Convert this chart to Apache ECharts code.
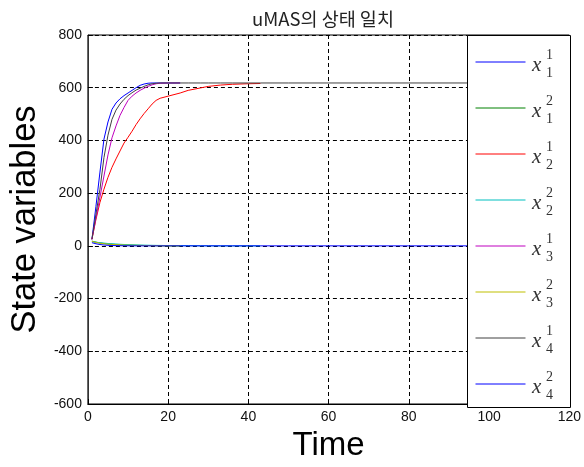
<!DOCTYPE html>
<html>
<head>
<meta charset="utf-8">
<script src="https://cdn.jsdelivr.net/npm/echarts@6/dist/echarts.min.js"></script>
<style>
html,body{margin:0;padding:0;background:#fff;}
#chart{width:584px;height:467px;}
</style>
</head>
<body>
<div id="chart"></div>
<script>
// Shared time axis samples
var time = [1,2,3,4,5,6,7,8,9,10,11,12,13,14,15,16,17,18,20,23,25,28,30,33,36,40,43,50,60,70,80,90,100];

// Series values, each aligned to the start of "time"
var x11 = [25,150,280,405,470,518,542,558,570,580,590,600,609,614,617,618,618,618,618,618];
var x12 = [18,14,11,9,7,6,5,4,3.5,3,2.5,2,1.7,1.4,1.2,1,0.8,0.6,0.3,0];
var x21 = [25,100,165,215,260,298,330,360,390,412,435,460,482,502,520,538,552,560,568,580,590,599,605,610,613,615,616];
var x22 = [16,14,12,10.5,9,8,7,6,5.2,4.5,4,3.5,3,2.7,2.4,2.1,1.8,1.6,1.2,0.8,0.6,0.3,0.2,0.1,0,0,0];
var x31 = [25,105,185,265,345,410,455,495,525,552,568,580,590,598,605,611,615,617,618,618];
var x32 = [17,13,10,8,6.5,5.5,4.5,3.8,3.2,2.7,2.3,2,1.7,1.4,1.2,1,0.8,0.6,0.3,0];
var x41 = [25,120,215,335,420,480,515,538,556,570,581,591,598,605,611,615,617,618,618,618,618,618,618,618,618,618,618,618,618,618,618,618,618];
var x42 = [12,8,5,3.2,2,1.3,0.8,0.5,0.3,0.2,0.1,0,0,0,0,0,0,0,0,0,0,0,0,0,0,0,0,0,0,0,0,0,0];

var seriesNames = ['x11','x12','x21','x22','x31','x32','x41','x42'];
var seriesValues = [x11,x12,x21,x22,x31,x32,x41,x42];
var seriesColors = ['#0000ff','#008000','#ff0000','#00bfbf','#bf00bf','#bfbf00','#404040','#0000ff'];
var supLabels = ['1','2','1','2','1','2','1','2'];
var subLabels = ['1','1','2','2','3','3','4','4'];

var xTicks = {min:0, max:120, interval:20};
var yTicks = {min:-600, max:800, interval:200};

var chart = echarts.init(document.getElementById('chart'), null, {renderer:'canvas'});

var series = seriesNames.map(function(n, i){
  var vals = seriesValues[i];
  return {
    name: n,
    type: 'line',
    symbol: 'none',
    showSymbol: false,
    animation: false,
    color: seriesColors[i],
    lineStyle: {width: 1, color: seriesColors[i]},
    itemStyle: {color: seriesColors[i]},
    data: vals.map(function(v, k){ return [time[k], v]; }),
    z: 2
  };
});

// legend box and math labels
var boxLeft = 467, boxTop = 35, boxRight = 570, boxBottom = 407;
var firstCenter = 62, step = 46;
var graphics = [{
  type: 'rect', z: 5, silent: true,
  shape: {x: boxLeft + 0.5, y: boxTop + 0.5, width: boxRight - boxLeft, height: boxBottom - boxTop},
  style: {fill: '#fff', stroke: '#000', lineWidth: 1}
}];
for (var i = 0; i < seriesNames.length; i++) {
  var cy = firstCenter + i*step;
  graphics.push({type:'text', left: 532, top: cy - 7, z: 100,
    style:{text:'x', font:'italic 21px "Liberation Serif"', fill:'#333'}});
  graphics.push({type:'text', left: 546, top: cy - 13.5, z: 100,
    style:{text:supLabels[i], font:'14px "Liberation Serif"', fill:'#333'}});
  graphics.push({type:'text', left: 546, top: cy + 4, z: 100,
    style:{text:subLabels[i], font:'14px "Liberation Serif"', fill:'#333'}});
}

var option = {
  animation: false,
  backgroundColor: '#fff',
  color: seriesColors,
  title: {
    text: 'uMAS의 상태 일치',
    left: 247, top: 5,
    textStyle: {fontFamily: '"Noto Sans CJK KR"', fontSize: 18.5, fontWeight: 'normal', color: '#222'}
  },
  grid: {left: 87.5, right: 14, top: 35, bottom: 60, show: true, borderColor: '#000', borderWidth: 1, backgroundColor: 'transparent'},
  legend: {
    data: seriesNames,
    orient: 'vertical',
    left: 475, top: 55,
    padding: 0,
    itemWidth: 50, itemHeight: 14, itemGap: 33.4,
    itemStyle: {opacity: 0, borderWidth: 0},
    lineStyle: {width: 1},
    formatter: function(){ return ''; },
    textStyle: {fontSize: 12},
    selectedMode: false,
    zlevel: 1,
    z: 20
  },
  xAxis: {
    type: 'value', min: xTicks.min, max: xTicks.max, interval: xTicks.interval,
    name: 'Time', nameLocation: 'middle', nameGap: 25,
    nameTextStyle: {fontFamily: 'Arial, "Liberation Sans"', fontSize: 33, color: '#000'},
    axisLine: {show: true, onZero: false, lineStyle: {color: '#000', width: 1}},
    axisTick: {show: true, inside: true, length: 5, lineStyle: {color: '#000'}},
    axisLabel: {fontFamily: 'Arial, "Liberation Sans"', fontSize: 14, color: '#111', margin: 6},
    splitLine: {show: true, lineStyle: {color: '#000', type: [4,3], width: 1}}
  },
  yAxis: {
    type: 'value', min: yTicks.min, max: yTicks.max, interval: yTicks.interval,
    name: 'State variables', nameLocation: 'middle', nameGap: 42, nameRotate: 90,
    nameTextStyle: {fontFamily: 'Arial, "Liberation Sans"', fontSize: 34.5, color: '#000'},
    axisLine: {show: true, onZero: false, lineStyle: {color: '#333', width: 1}},
    axisTick: {show: true, inside: true, length: 5, lineStyle: {color: '#000'}},
    axisLabel: {fontFamily: 'Arial, "Liberation Sans"', fontSize: 14, color: '#111', margin: 6},
    splitLine: {show: true, lineStyle: {color: '#000', type: [4,3], width: 1}}
  },
  graphic: graphics,
  series: series
};
chart.setOption(option);
</script>
</body>
</html>
